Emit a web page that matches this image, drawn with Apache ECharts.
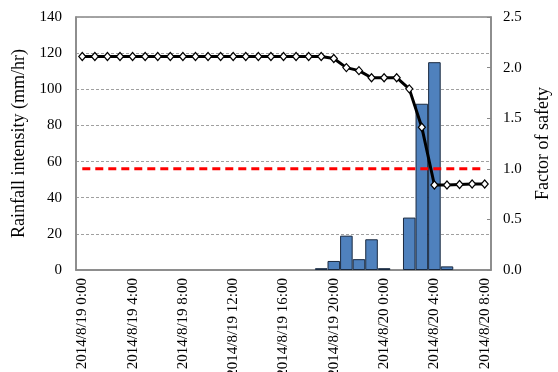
<!DOCTYPE html>
<html>
<head>
<meta charset="utf-8">
<script src="https://cdn.jsdelivr.net/npm/echarts@6/dist/echarts.min.js"></script>
<style>
  html, body { margin: 0; padding: 0; background: #fff; }
  #chart { width: 558px; height: 372px; }
</style>
</head>
<body>
<div id="chart"></div>
<script>
// Hourly time steps
const hours = [
  '2014/8/19 0:00', '2014/8/19 1:00', '2014/8/19 2:00', '2014/8/19 3:00',
  '2014/8/19 4:00', '2014/8/19 5:00', '2014/8/19 6:00', '2014/8/19 7:00',
  '2014/8/19 8:00', '2014/8/19 9:00', '2014/8/19 10:00', '2014/8/19 11:00',
  '2014/8/19 12:00', '2014/8/19 13:00', '2014/8/19 14:00', '2014/8/19 15:00',
  '2014/8/19 16:00', '2014/8/19 17:00', '2014/8/19 18:00', '2014/8/19 19:00',
  '2014/8/19 20:00', '2014/8/19 21:00', '2014/8/19 22:00', '2014/8/19 23:00',
  '2014/8/20 0:00', '2014/8/20 1:00', '2014/8/20 2:00', '2014/8/20 3:00',
  '2014/8/20 4:00', '2014/8/20 5:00', '2014/8/20 6:00', '2014/8/20 7:00',
  '2014/8/20 8:00'
];

// Rainfall intensity (mm/hr)
const rainfall = [
  0, 0, 0, 0, 0, 0, 0, 0, 0, 0, 0, 0, 0, 0, 0, 0, 0, 0, 0,
  1, 5, 19, 6, 17, 1, 0, 29, 92, 115, 2, 0, 0, 0
];

// Factor of safety
const safety = [
  2.11, 2.11, 2.11, 2.11, 2.11, 2.11, 2.11, 2.11, 2.11, 2.11,
  2.11, 2.11, 2.11, 2.11, 2.11, 2.11, 2.11, 2.11, 2.11, 2.11,
  2.09, 2.00, 1.97, 1.90, 1.90, 1.90, 1.79, 1.41, 0.84, 0.84,
  0.845, 0.85, 0.85
];

// Critical factor of safety
const critical = [
  1.0, 1.0, 1.0, 1.0, 1.0, 1.0, 1.0, 1.0, 1.0, 1.0, 1.0,
  1.0, 1.0, 1.0, 1.0, 1.0, 1.0, 1.0, 1.0, 1.0, 1.0, 1.0,
  1.0, 1.0, 1.0, 1.0, 1.0, 1.0, 1.0, 1.0, 1.0, 1.0, 1.0
];

const FONT = 'Liberation Serif';
const axisGray = '#878787';

// Hours without rain get no bar outline
const rainBars = rainfall.map(v => (v === 0 ? '-' : v));

const chart = echarts.init(document.getElementById('chart'), null, { renderer: 'canvas' });

chart.setOption({
  animation: false,
  backgroundColor: '#fff',
  grid: {
    left: 76, right: 67, top: 17, bottom: 102,
    containLabel: false,
    outerBoundsMode: 'none',
    show: true, borderColor: axisGray, borderWidth: 1.5, backgroundColor: 'transparent'
  },
  xAxis: {
    type: 'category',
    data: hours,
    boundaryGap: true,
    axisLine: { lineStyle: { color: axisGray, width: 1.5 } },
    axisTick: { inside: true, length: 4, interval: 3, lineStyle: { color: axisGray } },
    axisLabel: {
      interval: 3, rotate: 90, margin: 8,
      fontFamily: FONT, fontSize: 15, color: '#000'
    },
    splitLine: { show: false }
  },
  yAxis: [
    {
      type: 'value',
      min: 0, max: 140, interval: 20,
      name: 'Rainfall intensity (mm/hr)',
      nameLocation: 'middle',
      nameRotate: 90,
      nameGap: 42,
      nameTextStyle: { fontFamily: FONT, fontSize: 18, color: '#000' },
      axisLine: { show: true, lineStyle: { color: axisGray, width: 1.5 } },
      axisTick: { show: false },
      axisLabel: { fontFamily: FONT, fontSize: 15, color: '#000', margin: 14 },
      splitLine: { show: true, lineStyle: { color: '#a0a0a0', type: [3, 2], width: 1 } }
    },
    {
      type: 'value',
      min: 0, max: 2.5, interval: 0.5,
      position: 'right',
      name: 'Factor of safety',
      nameLocation: 'middle',
      nameRotate: 90,
      nameGap: 43,
      nameTextStyle: { fontFamily: FONT, fontSize: 18, color: '#000' },
      axisLine: { show: true, lineStyle: { color: axisGray, width: 1.5 } },
      axisTick: { show: true, inside: true, length: 4, lineStyle: { color: axisGray } },
      axisLabel: {
        fontFamily: FONT, fontSize: 15, color: '#000', margin: 12,
        formatter: v => v.toFixed(1)
      },
      splitLine: { show: false }
    }
  ],
  series: [
    {
      name: 'Rainfall intensity',
      type: 'bar',
      data: rainBars,
      yAxisIndex: 0,
      barCategoryGap: '0%',
      itemStyle: { color: '#4f81bd', borderColor: '#1a2a40', borderWidth: 1 },
      z: 2
    },
    {
      name: 'Critical',
      type: 'line',
      data: critical,
      yAxisIndex: 1,
      symbol: 'none',
      lineStyle: { color: '#ff0000', width: 3, type: [8, 5] },
      z: 3
    },
    {
      name: 'Factor of safety',
      type: 'line',
      data: safety,
      yAxisIndex: 1,
      symbol: 'diamond',
      symbolSize: [7, 8],
      showAllSymbol: true,
      itemStyle: { color: '#fff', borderColor: '#000', borderWidth: 1.2 },
      lineStyle: { color: '#000', width: 3 },
      z: 4
    }
  ]
});
</script>
</body>
</html>
